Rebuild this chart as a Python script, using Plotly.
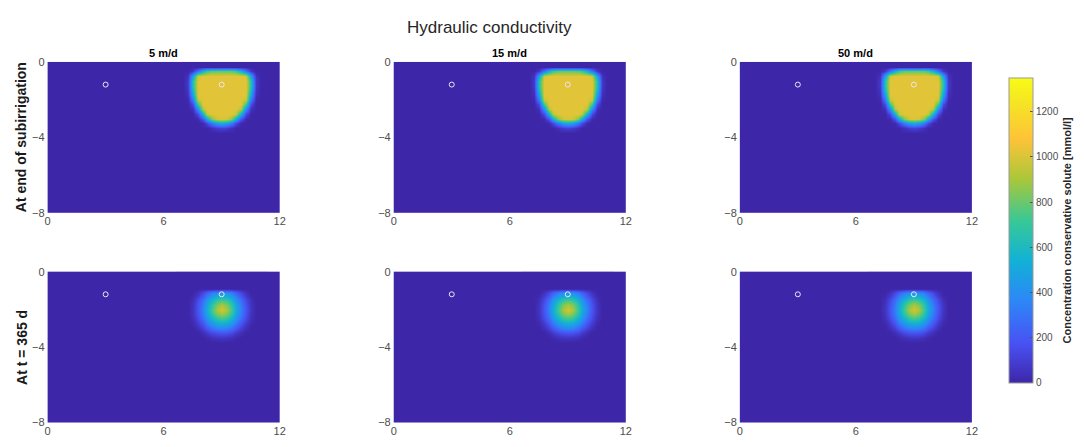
import plotly.graph_objects as go

# Grid of the modelled concentration field (x: distance [m], z: depth [m])
x_grid = [6.75, 7.0, 7.25, 7.5, 7.75, 8.0, 8.25, 8.5, 8.75, 9.0,
          9.25, 9.5, 9.75, 10.0, 10.25, 10.5, 10.75, 11.0, 11.25]
z_grid_end = [0.0, -0.25, -0.5, -0.75, -1.0, -1.25, -1.5, -1.75, -2.0,
              -2.25, -2.5, -2.75, -3.0, -3.25, -3.5, -3.75, -4.0]
z_grid_365 = [0.0, -0.5, -0.9, -1.1, -1.25, -1.5, -1.75, -2.0, -2.25,
              -2.5, -2.75, -3.0, -3.25, -3.5, -3.75, -4.0]

# Concentration [mmol/l] at the end of subirrigation
conc_end = [
    [0, 0, 0, 0, 0, 0, 0, 0, 0, 0, 0, 0, 0, 0, 0, 0, 0, 0, 0],
    [0, 0, 0, 0, 0, 0, 0, 0, 0, 0, 0, 0, 0, 0, 0, 0, 0, 0, 0],
    [0, 0, 0, 70, 300, 555, 720, 780, 790, 790, 790, 780, 720, 555, 300, 70, 0, 0, 0],
    [0, 0, 50, 475, 980, 1020, 1020, 1020, 1020, 1020, 1020, 1020, 1020, 1020, 980, 475, 50, 0, 0],
    [0, 0, 75, 645, 1020, 1020, 1020, 1020, 1020, 1020, 1020, 1020, 1020, 1020, 1020, 645, 75, 0, 0],
    [0, 0, 75, 650, 1020, 1020, 1020, 1020, 1020, 1020, 1020, 1020, 1020, 1020, 1020, 650, 75, 0, 0],
    [0, 0, 60, 595, 1020, 1020, 1020, 1020, 1020, 1020, 1020, 1020, 1020, 1020, 1020, 595, 60, 0, 0],
    [0, 0, 40, 470, 1020, 1020, 1020, 1020, 1020, 1020, 1020, 1020, 1020, 1020, 1020, 470, 40, 0, 0],
    [0, 0, 10, 310, 955, 1020, 1020, 1020, 1020, 1020, 1020, 1020, 1020, 1020, 955, 310, 10, 0, 0],
    [0, 0, 0, 150, 725, 1020, 1020, 1020, 1020, 1020, 1020, 1020, 1020, 1020, 725, 150, 0, 0, 0],
    [0, 0, 0, 45, 395, 935, 1020, 1020, 1020, 1020, 1020, 1020, 1020, 935, 395, 45, 0, 0, 0],
    [0, 0, 0, 0, 135, 540, 960, 1020, 1020, 1020, 1020, 1020, 960, 540, 135, 0, 0, 0, 0],
    [0, 0, 0, 0, 15, 175, 505, 835, 980, 1000, 980, 835, 505, 175, 15, 0, 0, 0, 0],
    [0, 0, 0, 0, 0, 15, 130, 310, 465, 530, 465, 310, 130, 15, 0, 0, 0, 0, 0],
    [0, 0, 0, 0, 0, 0, 0, 40, 85, 110, 85, 40, 0, 0, 0, 0, 0, 0, 0],
    [0, 0, 0, 0, 0, 0, 0, 0, 0, 0, 0, 0, 0, 0, 0, 0, 0, 0, 0],
    [0, 0, 0, 0, 0, 0, 0, 0, 0, 0, 0, 0, 0, 0, 0, 0, 0, 0, 0],
]

# Concentration [mmol/l] at t = 365 d
conc_365 = [
    [0, 0, 0, 0, 0, 0, 0, 0, 0, 0, 0, 0, 0, 0, 0, 0, 0, 0, 0],
    [0, 0, 0, 0, 0, 0, 0, 0, 0, 0, 0, 0, 0, 0, 0, 0, 0, 0, 0],
    [0, 0, 0, 0, 0, 0, 0, 0, 0, 0, 0, 0, 0, 0, 0, 0, 0, 0, 0],
    [0, 0, 0, 0, 50, 135, 235, 330, 395, 420, 395, 330, 235, 135, 50, 0, 0, 0, 0],
    [0, 0, 0, 15, 80, 180, 310, 415, 495, 520, 495, 415, 310, 180, 80, 15, 0, 0, 0],
    [0, 0, 0, 40, 135, 270, 415, 555, 675, 720, 675, 555, 415, 270, 135, 40, 0, 0, 0],
    [0, 0, 0, 55, 170, 330, 490, 675, 825, 900, 825, 675, 490, 330, 170, 55, 0, 0, 0],
    [0, 0, 0, 60, 180, 350, 520, 720, 900, 980, 900, 720, 520, 350, 180, 60, 0, 0, 0],
    [0, 0, 0, 55, 170, 330, 490, 675, 825, 900, 825, 675, 490, 330, 170, 55, 0, 0, 0],
    [0, 0, 0, 40, 135, 270, 415, 555, 675, 720, 675, 555, 415, 270, 135, 40, 0, 0, 0],
    [0, 0, 0, 15, 80, 180, 310, 415, 495, 520, 495, 415, 310, 180, 80, 15, 0, 0, 0],
    [0, 0, 0, 0, 35, 100, 180, 270, 330, 350, 330, 270, 180, 100, 35, 0, 0, 0, 0],
    [0, 0, 0, 0, 0, 35, 80, 135, 170, 180, 170, 135, 80, 35, 0, 0, 0, 0, 0],
    [0, 0, 0, 0, 0, 0, 15, 40, 55, 60, 55, 40, 15, 0, 0, 0, 0, 0, 0],
    [0, 0, 0, 0, 0, 0, 0, 0, 0, 0, 0, 0, 0, 0, 0, 0, 0, 0, 0],
    [0, 0, 0, 0, 0, 0, 0, 0, 0, 0, 0, 0, 0, 0, 0, 0, 0, 0, 0],
]

conductivities = ["5 m/d", "15 m/d", "50 m/d"]
row_labels = ["At end of subirrigation", "At t = 365 d"]
row_fields = [(z_grid_end, conc_end), (z_grid_365, conc_365)]

# Observation points
obs_x = [3, 9]
obs_z = [-1.2, -1.2]

x_ticks = [0, 6, 12]
z_ticks = [-8, -4, 0]
cbar_ticks = [0, 200, 400, 600, 800, 1000, 1200]
c_max = 1350

parula = [
    [0.00, "#3e26a8"],
    [0.13, "#4852f4"],
    [0.27, "#2d87f7"],
    [0.40, "#12b1d6"],
    [0.53, "#37c897"],
    [0.67, "#abc739"],
    [0.80, "#fec338"],
    [0.92, "#f5e524"],
    [1.00, "#f9fb15"],
]

W, H = 1084, 447
col_left = [45, 394, 743]
panel_w = 234
row_top = [57.5, 273]
panel_h = 155

fig = go.Figure()
font = "Liberation Sans, Arial, sans-serif"
tick_font = dict(family=font, size=11, color="#4d4d4d")

for r in range(2):
    zg, field = row_fields[r]
    for c in range(3):
        idx = r * 3 + c + 1
        xa = "x" if idx == 1 else f"x{idx}"
        ya = "y" if idx == 1 else f"y{idx}"
        fig.add_trace(go.Heatmap(
            x=x_grid, y=zg, z=field, coloraxis="coloraxis",
            zsmooth="best", xaxis=xa, yaxis=ya, hoverinfo="skip",
        ))
        fig.add_trace(go.Scatter(
            x=obs_x, y=obs_z, mode="markers", xaxis=xa, yaxis=ya,
            marker=dict(symbol="circle-open", size=5, color="#ece6f4",
                        line=dict(width=1)),
            showlegend=False, hoverinfo="skip",
        ))
        x0 = col_left[c] / W
        x1 = (col_left[c] + panel_w) / W
        y1 = 1 - row_top[r] / H
        y0 = 1 - (row_top[r] + panel_h) / H
        key = "" if idx == 1 else str(idx)
        fig.layout["xaxis" + key] = dict(
            domain=[x0, x1], range=[0, 12], tickvals=x_ticks,
            showgrid=False, zeroline=False, anchor=ya,
            tickfont=tick_font, ticks="", fixedrange=True,
        )
        fig.layout["yaxis" + key] = dict(
            domain=[y0, y1], range=[-8, 0], tickvals=z_ticks,
            showgrid=False, zeroline=False, anchor=xa,
            tickfont=tick_font, ticks="", fixedrange=True,
            ticklabelstandoff=2,
        )


def note(text, px, py, size, color, angle=0):
    return dict(text=text, x=px / W, y=1 - py / H, xref="paper", yref="paper",
                xanchor="center", yanchor="middle", showarrow=False,
                textangle=angle, font=dict(family=font, size=size, color=color))


annotations = [note("Hydraulic conductivity", 491, 22, 17, "#262626")]
for c, label in enumerate(conductivities):
    annotations.append(note(f"<b>{label}</b>", col_left[c] + panel_w / 2, 48,
                            11, "#000000"))
for r, label in enumerate(row_labels):
    annotations.append(note(f"<b>{label}</b>", 19, row_top[r] + panel_h / 2,
                            14, "#1a1a1a", angle=-90))

fig.update_layout(
    width=W, height=H,
    margin=dict(l=0, r=0, t=0, b=0),
    paper_bgcolor="white",
    plot_bgcolor="#3e26a8",
    showlegend=False,
    annotations=annotations,
    coloraxis=dict(
        colorscale=parula, cmin=0, cmax=c_max,
        colorbar=dict(
            x=1004 / W, xanchor="left", y=1 - 230.5 / H, yanchor="middle",
            thickness=24, thicknessmode="pixels",
            len=325, lenmode="pixels",
            outlinecolor="#9a9a9a", outlinewidth=1,
            tickvals=cbar_ticks, ticks="inside", ticklen=3,
            tickcolor="#555555",
            tickfont=dict(family=font, size=10, color="#4d4d4d"),
            title=dict(text="<b>Concentration conservative solute [mmol/l]</b>",
                       side="right",
                       font=dict(family=font, size=11, color="#262626")),
        ),
    ),
)

fig.write_html("out.html")
